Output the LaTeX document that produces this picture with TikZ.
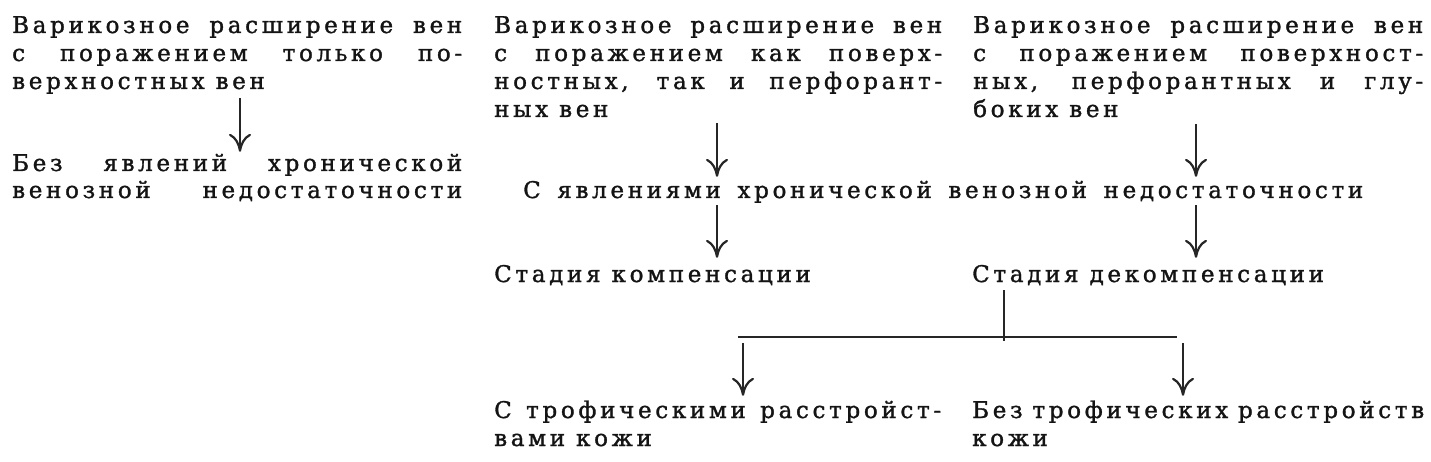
\documentclass[tikz,border=0pt]{standalone}
\usepackage{fontspec}
\setmainfont{DejaVu Serif}[LetterSpace=16,FakeBold=1.4]
\usetikzlibrary{arrows.meta}
\begin{document}
\begin{tikzpicture}[x=1pt,y=1pt,
  txt/.style={anchor=base west, inner sep=0pt, text height=16pt, text depth=6pt,
    font=\fontsize{23}{28}\selectfont, text=black!92},
  arr/.style={line width=1.1pt, draw=black!85,
    -{Computer Modern Rightarrow[length=18pt,width=22pt,line width=2.2pt]}},
  ln/.style={line width=1.4pt, draw=black!85}]
\useasboundingbox (0,0) rectangle (1431,-462);
% left block
\node[txt] (a1) at (12,-33) {\makebox[450pt][s]{Варикозное расширение вен}};
\node[txt] (a2) at (12,-61) {\makebox[450pt][s]{с поражением только по-}};
\node[txt] (a3) at (12,-89) {верхностных вен};
\node[txt] (b1) at (12,-171) {\makebox[450pt][s]{Без явлений хронической}};
\node[txt] (b2) at (12,-198) {\makebox[450pt][s]{венозной недостаточности}};
% middle block
\node[txt] (c1) at (494,-33) {\makebox[448pt][s]{Варикозное расширение вен}};
\node[txt] (c2) at (494,-61) {\makebox[448pt][s]{с поражением как поверх-}};
\node[txt] (c3) at (494,-89) {\makebox[448pt][s]{ностных, так и перфорант-}};
\node[txt] (c4) at (494,-117) {ных вен};
% right block
\node[txt] (d1) at (973,-33) {\makebox[450pt][s]{Варикозное расширение вен}};
\node[txt] (d2) at (973,-61) {\makebox[450pt][s]{с поражением поверхност-}};
\node[txt] (d3) at (973,-89) {\makebox[450pt][s]{ных, перфорантных и глу-}};
\node[txt] (d4) at (973,-117) {боких вен};
% middle row
\node[txt] (m) at (523,-198) {\makebox[840pt][s]{С явлениями хронической венозной недостаточности}};
% stages
\node[txt] (e1) at (494,-282) {Стадия компенсации};
\node[txt] (e2) at (972,-282) {Стадия декомпенсации};
% bottom
\node[txt] (f1) at (494,-418) {\makebox[447pt][s]{С трофическими расстройст-}};
\node[txt] (f2) at (494,-446) {вами кожи};
\node[txt] (g1) at (972,-418) {\makebox[452pt][s]{Без трофических расстройств}};
\node[txt] (g2) at (972,-446) {кожи};
% helper coordinates
\coordinate (ax1) at (240,0);
\coordinate (ax2) at (717,0);
\coordinate (ax3) at (1196,0);
\coordinate (vx) at (1004,0);
\coordinate (J) at (1004,-341);
\coordinate (HL) at (738,-337);
\coordinate (HR) at (1177,-337);
\coordinate (BL) at (743,-343);
\coordinate (BR) at (1183,-343);
% connectors
\draw[arr, shorten <=3pt, shorten >=3pt] (a3.south -| ax1) -- (b1.north -| ax1);
\draw[arr, shorten >=5pt] (c4.south -| ax2) -- (m.north -| ax2);
\draw[arr, shorten <=1pt, shorten >=5pt] (d4.south -| ax3) -- (m.north -| ax3);
\draw[arr, shorten <=1pt, shorten >=8pt] (m.south -| ax2) -- (e1.north -| ax2);
\draw[arr, shorten <=1pt, shorten >=8pt] (m.south -| ax3) -- (e2.north -| ax3);
\draw[ln, shorten <=2pt] (e2.south -| vx) -- (J);
\draw[ln] (HL) -- (HR);
\draw[arr, shorten >=6pt] (BL) -- (f1.north -| BL);
\draw[arr, shorten >=6pt] (BR) -- (g1.north -| BR);
\end{tikzpicture}
\end{document}
